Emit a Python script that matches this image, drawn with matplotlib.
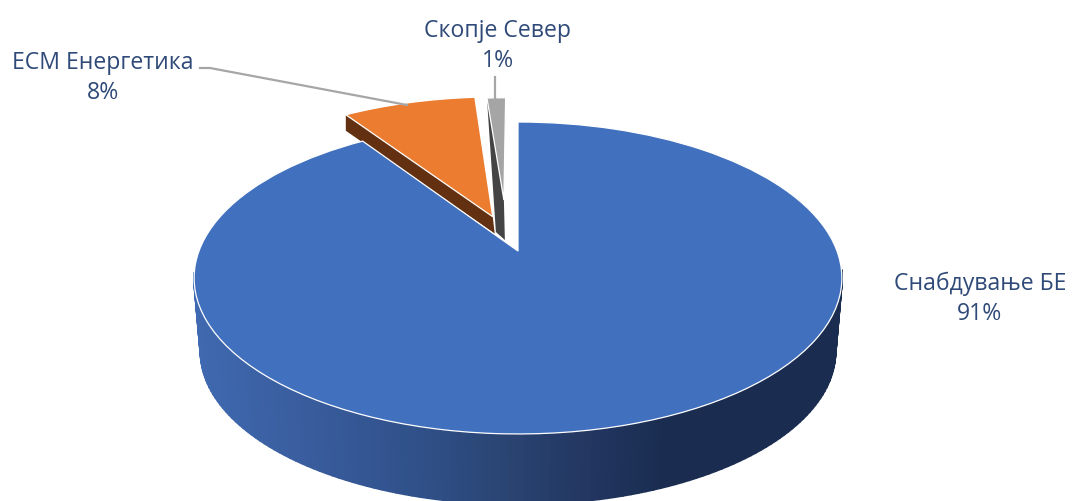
import numpy as np
import matplotlib
matplotlib.use('Agg')
import matplotlib.pyplot as plt
from matplotlib.collections import PolyCollection
from matplotlib.colors import LinearSegmentedColormap, Normalize
from matplotlib.transforms import Transform

plt.rcParams['font.family'] = ['Open Sans', 'DejaVu Sans']

# data
names = ['Снабдување БЕ', 'ЕСМ Енергетика', 'Скопје Север']
shares = [90.6, 8.1, 1.3]
colors = ['#4170be', '#eb7c30', '#a5a5a5']
text_color = '#2f4a78'

#####################################################################
# Perspective of the pie (unit circle -> image pixels)
#####################################################################
CX, CY = 518, 251
SCALE_X, SCALE_Y, TILT = 319, 151.3, 0.173
DEPTH = 74
SHRINK = 0.98

class TiltedPie(Transform):
    input_dims = 2
    output_dims = 2

    def transform_non_affine(self, values):
        values = np.asarray(values, dtype=float)
        w = 1 + TILT * values[:, 1]
        return np.column_stack((CX + SCALE_X * values[:, 0] / w,
                                CY - SCALE_Y * values[:, 1] / w))

def lower_rim(xy):
    # same points, on the bottom face of the disc
    return np.column_stack((CX + SHRINK * (xy[:, 0] - CX),
                            CY + SHRINK * (xy[:, 1] - CY) + DEPTH))

def wedge_corners(wedge, center, radius):
    # outer corners of a wedge, in pixels
    angles = np.radians([wedge.theta1, wedge.theta2])
    pts = np.column_stack((center[0] + radius * np.cos(angles),
                           center[1] + radius * np.sin(angles)))
    return tilted.transform(pts)

tilted = TiltedPie()

fig = plt.figure(figsize=(10.72, 5.01), dpi=100)
ax = fig.add_axes([0, 0, 1, 1])

wedges, _ = ax.pie(shares, colors=colors, startangle=90, counterclock=False,
                   explode=[0, 0.25, 0],
                   wedgeprops={'edgecolor': 'white', 'linewidth': 0.9})
ax.set_aspect('auto')
ax.set_xlim(0, 1072)
ax.set_ylim(501, 0)
ax.set_axis_off()

# the small slice sits a bit shorter than the big one
wedges[2].set_center((-0.047, 0.358))
wedges[2].set_radius(0.87)
for w in wedges:
    w.set_transform(tilted + ax.transData)

#####################################################################
# Side walls
#####################################################################
blue, orange, grey = wedges
t = np.radians(np.linspace(blue.theta1, blue.theta2, 260))
# only the front of the disc shows a wall
t = t[np.sin(t) < -0.12]
rim = tilted.transform(np.column_stack((np.cos(t), np.sin(t))))
low = lower_rim(rim)
strips = [[rim[i], rim[i + 1], low[i + 1], low[i]] for i in range(len(t) - 1)]
shade = LinearSegmentedColormap.from_list('side', [
    (0.00, '#3f69b0'), (0.17, '#395c9d'), (0.33, '#30518a'), (0.48, '#2a4472'),
    (0.62, '#22355f'), (0.72, '#1a2c50'), (1.00, '#1a2c50')])
walls = PolyCollection(strips, cmap=shade, norm=Normalize(194, 842),
                       edgecolors='face', linewidths=1.5, zorder=1)
walls.set_array(rim[:-1, 0])
ax.add_collection(walls)

# cut faces of the two exploded slices
o_center = orange.center
o_outer = wedge_corners(orange, o_center, 1.0)
o_apex = tilted.transform(np.array([o_center]))[0]
o_left = o_outer[np.argmin(o_outer[:, 0])]
ax.fill([o_left[0], o_apex[0], o_apex[0] + 2, o_left[0]],
        [o_left[1], o_apex[1], o_apex[1] + 17, o_left[1] + 16],
        color='#633112', lw=0, zorder=2)

g_center = grey.center
g_outer = wedge_corners(grey, g_center, 0.87)
g_apex = tilted.transform(np.array([g_center]))[0]
g_left = g_outer[np.argmin(g_outer[:, 0])]
ax.fill([g_left[0], g_apex[0], g_apex[0] + 1, g_apex[0] - 8],
        [g_left[1], g_apex[1], g_apex[1] + 40, g_apex[1] + 32],
        color='#444444', lw=0, zorder=2)

orange.set_zorder(3)
grey.set_zorder(3)
blue.set_zorder(4)

#####################################################################
# Labels and leader lines
#####################################################################
def add_label(i, x, y):
    ax.text(x, y, '{}\n{:.0f}%'.format(names[i], shares[i]), ha='center', va='center',
            fontsize=16.6, color=text_color, linespacing=1.33, zorder=6)

add_label(0, 980, 299)
add_label(1, 103, 78)
add_label(2, 498, 46)

ax.plot([200, 210, 407], [68, 68, 105], color='#a6a6a6', lw=1.6, zorder=5)
ax.plot([495, 495], [77, 98], color='#a6a6a6', lw=1.6, zorder=5)

fig.savefig('out.png', dpi=100)
